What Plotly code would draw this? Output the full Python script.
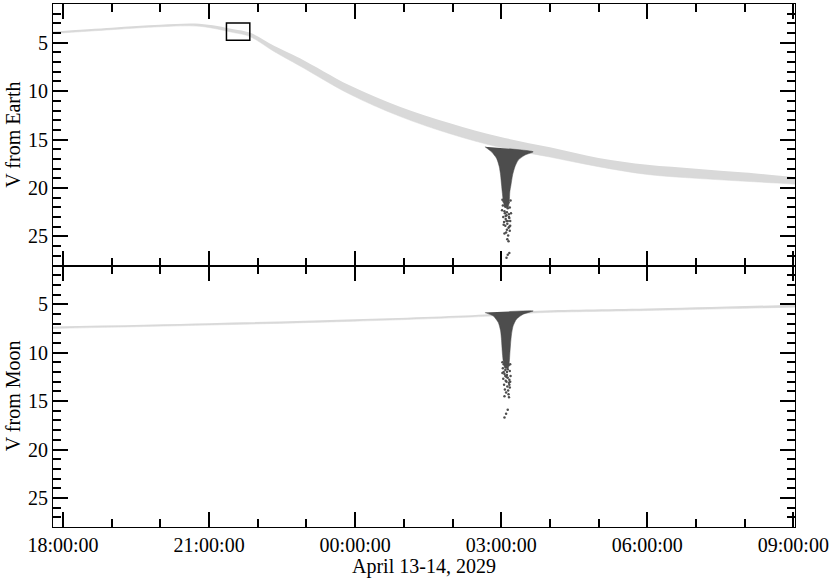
import plotly.graph_objects as go
from plotly.subplots import make_subplots

# light band, V from Earth
earth_times = ['2029-04-13 17:47:40', '2029-04-13 19:00', '2029-04-13 20:00', '2029-04-13 20:48',
               '2029-04-13 21:30', '2029-04-13 21:50', '2029-04-13 22:20', '2029-04-13 22:52',
               '2029-04-13 23:53', '2029-04-14 00:55', '2029-04-14 01:57', '2029-04-14 02:58',
               '2029-04-14 04:00', '2029-04-14 05:00', '2029-04-14 06:00', '2029-04-14 07:00',
               '2029-04-14 08:00', '2029-04-14 09:02']
earth_bright = [3.85, 3.45, 3.15, 3.05, 3.6, 3.95, 5.3, 6.6, 9.4, 11.6, 13.3, 14.7, 15.8, 16.9, 17.6, 18.0, 18.4, 18.9]
earth_faint = [4.05, 3.65, 3.35, 3.3, 3.95, 4.35, 5.9, 7.4, 10.3, 12.6, 14.4, 15.8, 16.8, 17.8, 18.6, 19.0, 19.3, 19.6]

# light band, V from Moon
moon_times = ['2029-04-13 17:47:40', '2029-04-13 21:00', '2029-04-14 00:00', '2029-04-14 02:40',
              '2029-04-14 03:40', '2029-04-14 06:00', '2029-04-14 09:02']
moon_bright = [7.3, 6.95, 6.55, 6.05, 5.7, 5.45, 5.05]
moon_faint = [7.5, 7.15, 6.75, 6.25, 5.9, 5.65, 5.3]

# dark funnel outline (left edge down, right edge up, back along the top)
ef_times = ['02:39:54', '02:48:00', '02:54:18', '02:57:36', '02:59:12', '03:00:24', '03:01:12',
            '03:02:30', '03:04:30', '03:08:30', '03:10:00',
            '03:10:36', '03:12:00', '03:14:00', '03:16:54', '03:21:00', '03:29:12', '03:39:24', '03:10:00']
ef_vals = [15.74, 16.26, 16.94, 17.8, 18.66, 19.69, 20.38, 21.3, 22.0, 22.0, 21.3,
           20.38, 19.69, 18.66, 17.8, 17.11, 16.6, 16.26, 15.95]
mf_times = ['02:39:54', '02:50:00', '02:56:24', '02:59:12', '03:00:24', '03:01:12', '03:01:30',
            '03:02:30', '03:04:30', '03:08:30', '03:10:00',
            '03:10:36', '03:11:30', '03:12:42', '03:14:42', '03:18:48', '03:27:00', '03:39:24', '03:10:00']
mf_vals = [5.86, 6.2, 6.89, 7.74, 8.76, 9.79, 10.13, 10.9, 11.6, 11.6, 10.9,
           10.13, 9.1, 8.08, 7.23, 6.54, 6.03, 5.69, 5.75]

# scattered faint points in the tails
ed_times = ['03:01:30', '03:03:00', '03:06:00', '03:09:00', '03:11:30', '03:02:00', '03:05:00',
            '03:08:00', '03:10:30', '03:01:00', '03:04:00', '03:07:00', '03:12:00', '03:06:30',
            '03:02:30', '03:10:00', '03:05:30', '03:09:30', '03:11:00', '03:03:30', '03:07:30',
            '03:11:00', '03:05:00', '03:09:00', '03:07:00', '03:10:30', '03:06:00', '03:04:00',
            '03:08:30', '03:03:00', '03:06:30', '03:09:30', '03:05:30', '03:08:00', '03:04:30',
            '03:10:00', '03:07:30', '03:09:00', '03:10:00', '03:08:00', '03:06:30']
ed_vals = [21.2, 21.4, 21.1, 21.5, 21.3, 21.8, 21.9, 22.1, 22.0, 22.3, 22.4, 22.5, 22.6, 22.8,
           23.0, 23.1, 23.2, 23.0, 23.4, 23.5, 23.7, 23.9, 23.9, 24.1, 24.3, 24.4, 24.6, 24.7,
           24.9, 23.8, 23.4, 22.7, 22.9, 23.4, 22.6, 24.0, 25.3, 25.5, 26.7, 26.9, 27.2]
md_times = ['03:01:30', '03:03:00', '03:06:00', '03:09:00', '03:11:00', '03:02:00', '03:05:00',
            '03:08:00', '03:10:30', '03:01:30', '03:04:00', '03:07:00', '03:11:30', '03:06:30',
            '03:02:30', '03:10:00', '03:05:30', '03:09:30', '03:11:00', '03:03:30', '03:07:30',
            '03:10:30', '03:04:30', '03:08:30', '03:06:00', '03:09:00', '03:03:00', '03:07:00',
            '03:05:00', '03:08:00', '03:10:00', '03:06:30', '03:04:00', '03:09:30', '03:08:00',
            '03:06:00', '03:04:00']
md_vals = [11.0, 11.2, 11.1, 11.3, 11.2, 11.6, 11.8, 11.7, 11.9, 12.1, 12.2, 12.3, 12.4, 12.5,
           12.7, 12.8, 12.9, 13.1, 13.0, 13.3, 13.5, 13.6, 13.8, 13.9, 14.1, 14.3, 12.0, 12.0,
           12.4, 12.6, 13.3, 13.0, 14.5, 14.6, 15.9, 16.3, 16.7]

box_times = ['2029-04-13 21:21:24', '2029-04-13 21:50:12']
box_vals = [2.96, 4.74]

light = '#d9d9d9'
dark = '#4d4d4d'
font = dict(family='Liberation Serif', size=20, color='black')


def band(fig, times, bright, faint, row):
    fig.add_trace(go.Scatter(x=times, y=bright, mode='lines', line=dict(width=0, shape='spline', color=light),
                             hoverinfo='skip', showlegend=False), row=row, col=1)
    fig.add_trace(go.Scatter(x=times, y=faint, mode='lines', fill='tonexty', fillcolor=light,
                             line=dict(width=0.5, shape='spline', color=light),
                             hoverinfo='skip', showlegend=False), row=row, col=1)


def funnel(times, vals):
    t = ['2029-04-14 ' + s for s in times]
    return go.Scatter(x=t, y=vals, fill='toself', fillcolor=dark,
                      line=dict(width=0.5, color=dark, shape='spline', smoothing=0.6),
                      mode='lines', showlegend=False)


def dots(times, vals):
    t = ['2029-04-14 ' + s for s in times]
    return go.Scatter(x=t, y=vals, mode='markers', marker=dict(size=2.5, color=dark),
                      showlegend=False)


fig = make_subplots(rows=2, cols=1, shared_xaxes=True, vertical_spacing=0)
band(fig, earth_times, earth_bright, earth_faint, 1)
fig.add_trace(funnel(ef_times, ef_vals), row=1, col=1)
fig.add_trace(dots(ed_times, ed_vals), row=1, col=1)
band(fig, moon_times, moon_bright, moon_faint, 2)
fig.add_trace(funnel(mf_times, mf_vals), row=2, col=1)
fig.add_trace(dots(md_times, md_vals), row=2, col=1)

fig.add_shape(type='rect', xref='x', yref='y', x0=box_times[0], x1=box_times[1],
              y0=box_vals[0], y1=box_vals[1], line=dict(color='black', width=1.5))

xcommon = dict(type='date', range=['2029-04-13 17:47:40', '2029-04-14 09:02:00'],
               tick0='2029-04-13 18:00:00', dtick=3 * 3600000, tickformat='%H:%M:%S',
               ticks='inside', ticklen=15, tickwidth=2, tickcolor='black',
               showline=True, linewidth=1, linecolor='black', mirror='allticks',
               showgrid=False, zeroline=False, tickfont=font, automargin=False,
               minor=dict(dtick=3600000, ticks='inside', ticklen=8, tickwidth=1.5,
                          tickcolor='black', showgrid=False))
ycommon = dict(range=[28, 1], tick0=0, dtick=5, ticks='inside', ticklen=15, tickwidth=2,
               tickcolor='black', showline=True, linewidth=1, linecolor='black',
               mirror='allticks', showgrid=False, zeroline=False, tickfont=font, automargin=False,
               minor=dict(dtick=1, ticks='inside', ticklen=8, tickwidth=1.5,
                          tickcolor='black', showgrid=False))

fig.update_xaxes(**xcommon)
fig.update_xaxes(showticklabels=False, row=1, col=1)
fig.update_yaxes(**ycommon)

fig.add_annotation(text='V from Earth', xref='paper', yref='paper', x=0, y=0.75, xshift=-40,
                   xanchor='center', yanchor='middle', textangle=-90, showarrow=False, font=font)
fig.add_annotation(text='V from Moon', xref='paper', yref='paper', x=0, y=0.25, xshift=-40,
                   xanchor='center', yanchor='middle', textangle=-90, showarrow=False, font=font)
fig.add_annotation(text='April 13-14, 2029', xref='paper', yref='paper', x=0.5, y=0, yshift=-39,
                   xanchor='center', yanchor='middle', showarrow=False, font=font)

fig.update_layout(width=830, height=579, margin=dict(l=53, r=35, t=4, b=52, autoexpand=False),
                  plot_bgcolor='white', paper_bgcolor='white', font=font)

fig.write_html('out.html', config={'displayModeBar': False},
               post_script="document.body.style.margin='0';")
